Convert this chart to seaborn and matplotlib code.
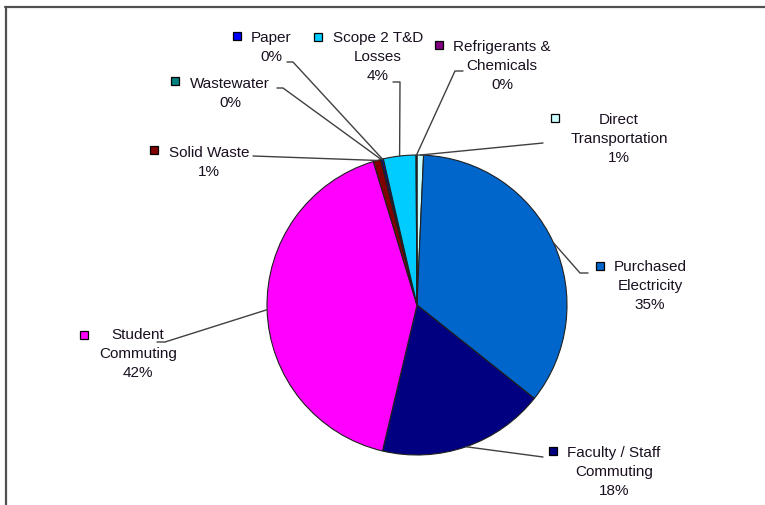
import matplotlib
matplotlib.use("Agg")
import matplotlib.pyplot as plt
import numpy as np
import seaborn as sns

# --- datos (sentido horario desde arriba) ---
categories = ["Direct\nTransportation", "Purchased\nElectricity",
              "Faculty / Staff\nCommuting", "Student\nCommuting",
              "Solid Waste", "Wastewater", "Paper",
              "Scope 2 T&D\nLosses", "Refrigerants &\nChemicals"]
shares = [0.7, 35.0, 18.0, 41.6, 0.8, 0.1, 0.2, 3.5, 0.1]
colors = ["#CCFFFF", "#0066CC", "#000080", "#FF00FF", "#800000",
          "#008080", "#0000FF", "#00CCFF", "#800080"]

W, H = 765, 505

# posiciones de etiquetas en pixeles: centro texto (x, y 1a linea), marcador, codo de la guia
label_pos = [
    ((619, 119), (555, 118), [(543, 143)]),
    ((650, 266), (600, 266), [(588, 273), (580, 273)]),
    ((614, 452), (553, 451), [(543, 457)]),
    ((138, 334), (84, 335), [(157, 342), (165, 342)]),
    ((209, 152), (154, 150), [(253, 156)]),
    ((230, 83), (175, 81), [(277, 88), (283, 88)]),
    ((271, 37), (237, 36), [(287, 62), (293, 62)]),
    ((378, 37), (318, 37), [(393, 82), (400, 82)]),
    ((502, 46), (439, 45), [(463, 71), (455, 71)]),
]

sns.set_theme(style="white")
plt.rcParams['font.family'] = ['Liberation Sans', 'DejaVu Sans']

fig = plt.figure(figsize=(W / 100, H / 100), dpi=100)
ax = fig.add_axes([0, 0, 1, 1])

cx, cy, r = 417, H - 305, 150
wedges, _ = ax.pie(shares, colors=colors, startangle=90, counterclock=False,
                   center=(cx, cy), radius=r, frame=True,
                   wedgeprops=dict(edgecolor="#202020", linewidth=0.8))

for w, name, val, (tpos, mpos, elbow) in zip(wedges, categories, shares, label_pos):
    ang = np.deg2rad((w.theta1 + w.theta2) / 2)
    edge = (cx + r * np.cos(ang), cy + r * np.sin(ang))
    pts = [(x, H - y) for x, y in elbow] + [edge]
    xs, ys = zip(*pts)
    ax.plot(xs, ys, color="#404040", lw=1.0, zorder=1)
    txt = f"{name}\n{val:.0f}%"
    ax.text(tpos[0], H - tpos[1] + 6, txt, ha="center", va="top",
            fontsize=11, color="#1a1020", linespacing=1.45, zorder=3)
    ax.plot(mpos[0], H - mpos[1], marker="s", markersize=6,
            markerfacecolor=w.get_facecolor(), markeredgecolor="black",
            markeredgewidth=0.9, zorder=3)

# marco superior e izquierdo
ax.plot([5, W], [H - 7, H - 7], color="#505050", lw=1.6, clip_on=False)
ax.plot([6, 6], [H - 7, 0], color="#505050", lw=1.6, clip_on=False)

ax.set_xlim(0, W)
ax.set_ylim(0, H)
ax.set_aspect("equal")
ax.axis("off")

fig.savefig("out.png", dpi=100)
